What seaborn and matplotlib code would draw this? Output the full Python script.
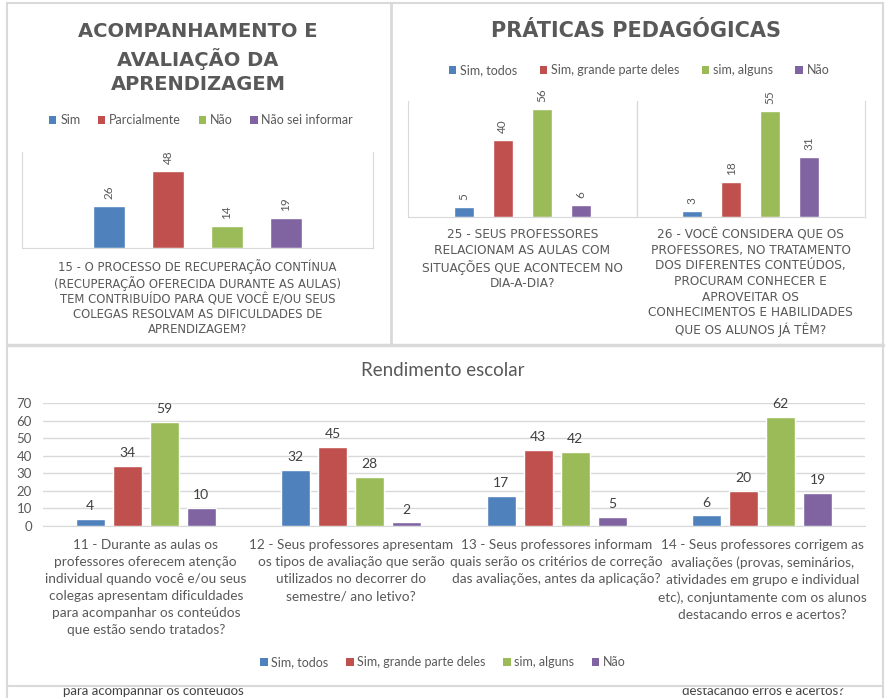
import numpy as np
import pandas as pd
import seaborn as sns
import matplotlib.pyplot as plt
from matplotlib.patches import Rectangle, Patch

# ---- data ----
tl_title = "ACOMPANHAMENTO E\nAVALIAÇÃO DA\nAPRENDIZAGEM"
tl_categories = ["15 - O PROCESSO DE RECUPERAÇÃO CONTÍNUA\n(RECUPERAÇÃO OFERECIDA DURANTE AS AULAS)\n"
                 "TEM CONTRIBUÍDO PARA QUE VOCÊ E/OU SEUS\nCOLEGAS RESOLVAM AS DIFICULDADES DE\nAPRENDIZAGEM?"]
tl_series = ["Sim", "Parcialmente", "Não", "Não sei informar"]
tl_values = [26, 48, 14, 19]

tr_title = "PRÁTICAS PEDAGÓGICAS"
tr_categories = ["25 - SEUS PROFESSORES\nRELACIONAM AS AULAS COM\nSITUAÇÕES QUE ACONTECEM NO\nDIA-A-DIA?",
                 "26 - VOCÊ CONSIDERA QUE OS\nPROFESSORES, NO TRATAMENTO\nDOS DIFERENTES CONTEÚDOS,\n"
                 "PROCURAM CONHECER E\nAPROVEITAR OS\nCONHECIMENTOS E HABILIDADES\nQUE OS ALUNOS JÁ TÊM?"]
series = ["Sim, todos", "Sim, grande parte deles", "sim, alguns", "Não"]
tr_sim_todos = [5, 3]
tr_grande_parte = [40, 18]
tr_alguns = [56, 55]
tr_nao = [6, 31]

bt_title = "Rendimento escolar"
bt_categories = ["11 - Durante as aulas os\nprofessores oferecem atenção\nindividual quando você e/ou seus\n"
                 "colegas apresentam dificuldades\npara acompanhar os conteúdos\nque estão sendo tratados?",
                 "12 - Seus professores apresentam\nos tipos de avaliação que serão\nutilizados no decorrer do\nsemestre/ ano letivo?",
                 "13 - Seus professores informam\nquais serão os critérios de correção\ndas avaliações, antes da aplicação?",
                 "14 - Seus professores corrigem as\navaliações (provas, seminários,\natividades em grupo e individual\n"
                 "etc), conjuntamente com os alunos\ndestacando erros e acertos?"]
bt_sim_todos = [4, 32, 17, 6]
bt_grande_parte = [34, 45, 43, 20]
bt_alguns = [59, 28, 42, 62]
bt_nao = [10, 2, 5, 19]
bt_yticks = [0, 10, 20, 30, 40, 50, 60, 70]

colors = ["#4F81BD", "#C0504D", "#9BBB59", "#8064A2"]
txt = "#595959"
frame = "#d9d9d9"

sns.set_style("white")
plt.rcParams['font.family'] = ['Lato', 'DejaVu Sans']

W, H = 886, 698
fig = plt.figure(figsize=(W / 100, H / 100), dpi=100)


def px_axes(left, top, right, bottom):
    return fig.add_axes([left / W, (H - bottom) / H, (right - left) / W, (bottom - top) / H])


# background layer in pixel coords: frames, titles
bg = fig.add_axes([0, 0, 1, 1])
bg.set_xlim(0, W)
bg.set_ylim(H, 0)
bg.axis("off")

for x in [7, 883]:
    bg.plot([x, x], [3, H], color=frame, lw=1.5, zorder=3)
bg.plot([391.5, 391.5], [3, 345], color=frame, lw=2, zorder=3)
bg.plot([7, 883], [3, 3], color=frame, lw=1.5, zorder=3)
bg.plot([7, 883], [344.5, 344.5], color=frame, lw=2.5, zorder=3)
bg.plot([7, 883], [686, 686], color=frame, lw=1.5, zorder=3)

# cut-off text from the screenshot below the frame
bg.text(153, 691, "para acompanhar os conteúdos", ha="center", va="center", fontsize=9.5, color="#404040", zorder=1)
bg.text(763, 691, "destacando erros e acertos?", ha="center", va="center", fontsize=9.5, color="#404040", zorder=1)
bg.add_patch(Rectangle((8, 674), 874, 12.5, color="white", zorder=2))

bg.text(198, 58, tl_title, ha="center", va="center", fontsize=14, fontweight="bold",
        color=txt, family="DejaVu Sans", linespacing=1.35)
bg.text(636, 31, tr_title, ha="center", va="center", fontsize=15, fontweight="bold",
        color=txt, family="DejaVu Sans")
bg.text(443, 371, bt_title, ha="center", va="center", fontsize=13.5, color=txt)


def legend(ax, labels, cx, cy, colsp=1.4):
    handles = [Patch(facecolor=c, edgecolor="none") for c in colors]
    ax.legend(handles, labels, loc="center", bbox_to_anchor=(cx / W, (H - cy) / H),
              bbox_transform=fig.transFigure, ncol=4, frameon=False, fontsize=9,
              handlelength=0.6, handleheight=0.6, handletextpad=0.3, columnspacing=colsp,
              labelcolor=txt)


def style_xlabels(ax, size, family, ls, pad):
    ax.tick_params(axis="x", length=0, pad=pad, labelsize=size, labelcolor=txt)
    for t in ax.get_xticklabels():
        t.set_family(family)
        t.set_linespacing(ls)
    ax.set_xlabel("")
    ax.set_ylabel("")


# ---- top-left ----
ax1 = px_axes(22, 152, 373, 248)
df1 = pd.DataFrame({"cat": tl_categories * 4, "serie": tl_series, "v": tl_values})
sns.barplot(data=df1, x="cat", y="v", hue="serie", hue_order=tl_series, palette=colors,
            width=0.672, gap=0.47, saturation=1, legend=False, ax=ax1)
ax1.set_xlim(-0.5, 0.5)
ax1.set_ylim(0, 60)
ax1.set_yticks([])
ax1.spines["top"].set_visible(False)
for s in ["left", "right", "bottom"]:
    ax1.spines[s].set_color(frame)
for c in ax1.containers:
    ax1.bar_label(c, rotation=90, padding=5, fontsize=8.5, color=txt)
style_xlabels(ax1, 8.4, "DejaVu Sans", 1.2, 8)
legend(ax1, tl_series, 201, 120)

# ---- top-right ----
ax2 = px_axes(408, 101, 865, 217)
df2 = pd.DataFrame({"cat": tr_categories * 4,
                    "serie": np.repeat(series, 2),
                    "v": tr_sim_todos + tr_grande_parte + tr_alguns + tr_nao})
sns.barplot(data=df2, x="cat", y="v", hue="serie", hue_order=series, palette=colors,
            width=0.683, gap=0.49, saturation=1, legend=False, ax=ax2)
ax2.set_xlim(-0.5, 1.5)
ax2.set_ylim(0, 60)
ax2.set_yticks([])
ax2.spines["top"].set_visible(False)
for s in ["left", "right", "bottom"]:
    ax2.spines[s].set_color(frame)
ax2.axvline(0.5, color=frame, lw=1)
for c in ax2.containers:
    ax2.bar_label(c, rotation=90, padding=5, fontsize=8.5, color=txt)
style_xlabels(ax2, 8.7, "DejaVu Sans", 1.26, 8)
legend(ax2, series, 639, 70, colsp=1.8)

# ---- bottom ----
ax3 = px_axes(43, 403, 865, 526)
df3 = pd.DataFrame({"cat": bt_categories * 4,
                    "serie": np.repeat(series, 4),
                    "v": bt_sim_todos + bt_grande_parte + bt_alguns + bt_nao})
sns.barplot(data=df3, x="cat", y="v", hue="serie", hue_order=series, palette=colors,
            width=0.72, gap=0.22, saturation=1, legend=False, ax=ax3, zorder=3)
ax3.set_xlim(-0.5, 3.5)
ax3.set_ylim(0, 70)
ax3.set_yticks(bt_yticks)
ax3.yaxis.grid(True, color=frame, lw=1)
ax3.set_axisbelow(True)
for s in ["top", "left", "right"]:
    ax3.spines[s].set_visible(False)
ax3.spines["bottom"].set_color(frame)
ax3.tick_params(axis="y", length=0, pad=8, labelsize=9.5, labelcolor=txt)
for c in ax3.containers:
    ax3.bar_label(c, padding=5, fontsize=10, color="#404040")
style_xlabels(ax3, 9.8, "Lato", 1.5, 9.5)
legend(ax3, series, 443, 662)

fig.savefig("out.png", dpi=100, facecolor="white")
